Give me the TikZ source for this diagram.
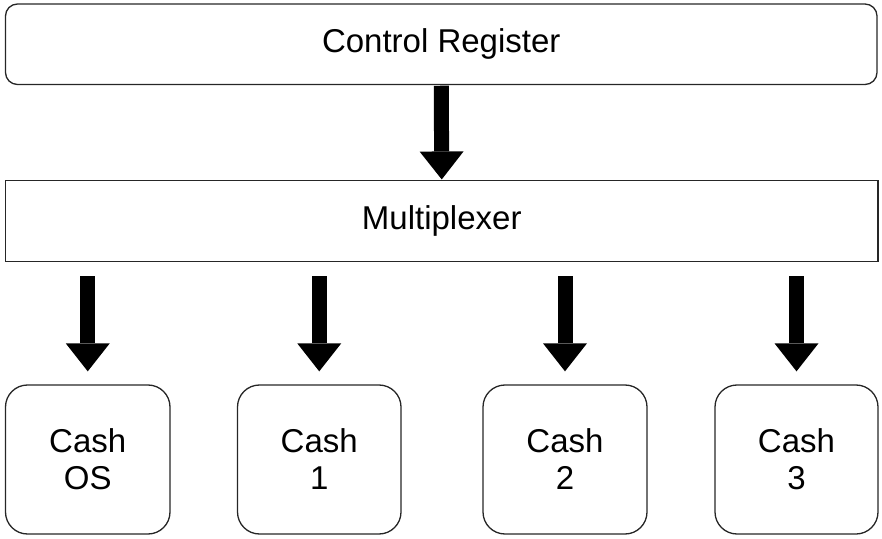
\documentclass[tikz,border=0pt]{standalone}
\usepackage{fontspec}
\setmainfont{Liberation Sans}
\usetikzlibrary{arrows.meta,calc}
\begin{document}
\begin{tikzpicture}[x=1pt,y=1pt,
  box/.style={draw=black!85, line width=1.3pt, align=center, inner sep=0pt,
    font=\fontsize{33}{37}\selectfont},
  bigarrow/.style={line width=15pt, draw=black,
    -{Triangle[width=44pt,length=28pt,line width=0pt]}, shorten >=0pt}
]
\useasboundingbox (0,0) rectangle (882,538);
\node[box, rounded corners=12pt, minimum width=871.5pt, minimum height=80.5pt]
  (cr) at (441.25,493.75) {Control Register};
\node[box, minimum width=872.5pt, minimum height=81pt]
  (mux) at (441.75,316.8) {Multiplexer};
\node[box, rounded corners=22pt, minimum width=164.5pt, minimum height=149pt]
  (c0) at (87.75,78.5) {Cash\\OS};
\node[box, rounded corners=22pt, minimum width=163.5pt, minimum height=149pt]
  (c1) at (319.25,78.5) {Cash\\1};
\node[box, rounded corners=22pt, minimum width=164pt, minimum height=149pt]
  (c2) at (565,78.5) {Cash\\2};
\node[box, rounded corners=22pt, minimum width=163pt, minimum height=149pt]
  (c3) at (796.5,78.5) {Cash\\3};
\draw[bigarrow] ([yshift=-0.6pt]cr.south) -- ([yshift=0.6pt]mux.north);
\foreach \c in {c0,c1,c2,c3}{
  \draw[bigarrow] ([yshift=-14pt]mux.south -| \c.north) -- ([yshift=13pt]\c.north);
}
\end{tikzpicture}
\end{document}
